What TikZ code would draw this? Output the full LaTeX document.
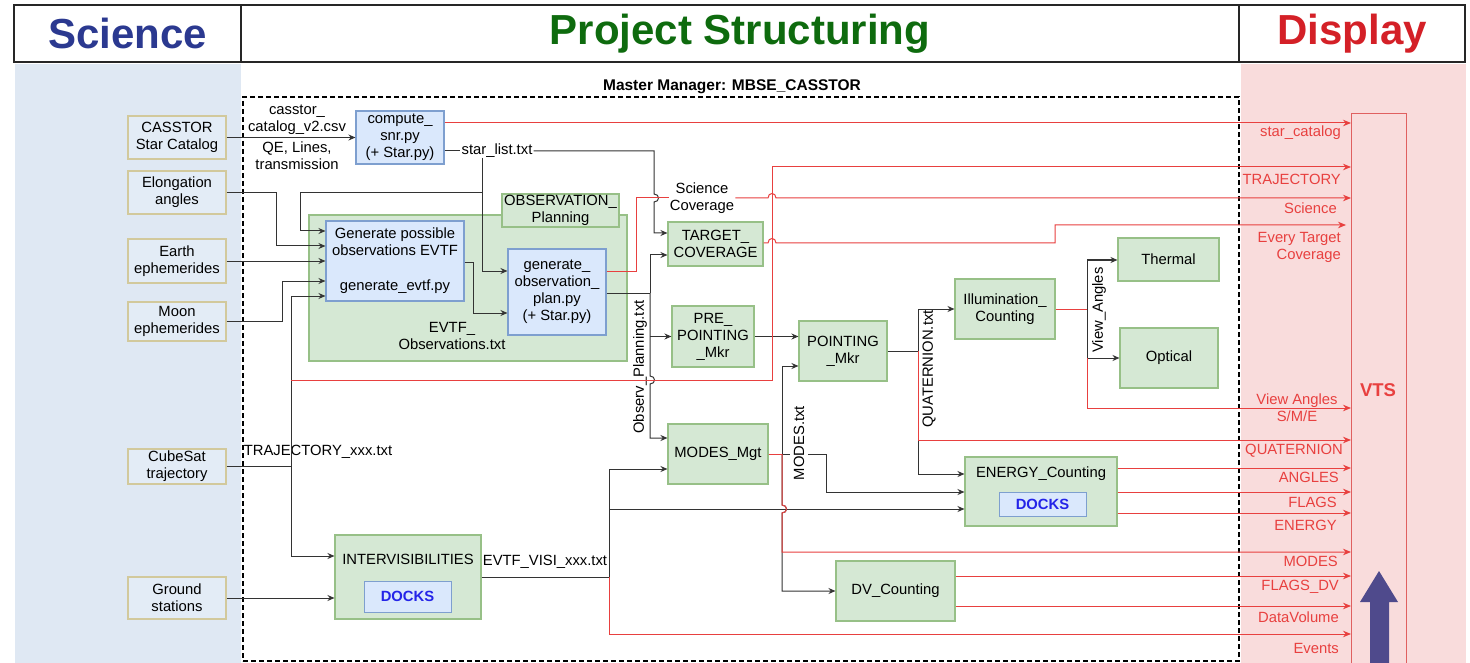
\documentclass[tikz,border=0pt]{standalone}
\usepackage{fontspec}
\setmainfont{Liberation Sans}
\usetikzlibrary{arrows.meta}
\definecolor{sciT}{HTML}{2B3990}
\definecolor{projT}{HTML}{0E6B0E}
\definecolor{dispT}{HTML}{D42027}
\definecolor{sciBG}{HTML}{DFE8F3}
\definecolor{dispBG}{HTML}{F9DCDC}
\definecolor{srcB}{HTML}{D2C99C}
\definecolor{srcF}{HTML}{E3ECF6}
\definecolor{blueF}{HTML}{DAE8FC}
\definecolor{blueB}{HTML}{7E9FCF}
\definecolor{greenF}{HTML}{D5E8D4}
\definecolor{greenB}{HTML}{97C087}
\definecolor{redC}{HTML}{E8403F}
\definecolor{lineC}{HTML}{333333}
\definecolor{docksT}{HTML}{2424E8}
\definecolor{vtsB}{HTML}{E06060}
\definecolor{purp}{HTML}{4F4A8C}
\newcommand\fs{\fontsize{14.8}{17}\selectfont}
\begin{document}
\begin{tikzpicture}[x=1pt,y=-1pt,
 base/.style={font=\fs, align=center, inner sep=0.5pt, line width=1.1pt},
 srcbox/.style={base, draw=srcB, fill=srcF, minimum width=98pt},
 bbox/.style={base, draw=blueB, fill=blueF},
 gbox/.style={base, draw=greenB, fill=greenF},
 ln/.style={draw=lineC, line width=1pt},
 arr/.style={ln, -{Stealth[length=7pt,width=6pt]}},
 rln/.style={draw=redC, line width=1pt},
 rarr/.style={rln, -{Stealth[length=8pt,width=6.5pt]}},
 lbl/.style={font=\fs, align=center, inner sep=1pt},
 rlbl/.style={font=\fs, text=redC, anchor=east, inner sep=0pt, align=right},
 docks/.style={draw=blueB, fill=blueF, line width=1pt, font=\fs\bfseries, text=docksT, inner sep=1pt},
 hdr/.style={draw=black!85, line width=1.3pt, font=\fontsize{42}{48}\selectfont\bfseries, inner sep=0pt}
]
\useasboundingbox (0,0) rectangle (1470,663);
\fill[white] (0,0) rectangle (1470,663);
% panels
\fill[sciBG] (15,64) rectangle (241,663);
\fill[dispBG] (1241,64) rectangle (1466,663);
% header
\node[hdr, text=sciT, minimum width=227pt, minimum height=57pt] (hsci) at (127.5,33.5) {Science};
\node[hdr, text=projT, minimum width=998pt, minimum height=57pt] (hproj) at (740,33.5) {Project Structuring};
\node[hdr, text=dispT, minimum width=226pt, minimum height=57pt] (hdisp) at (1352,33.5) {Display};
% master manager
\node[draw=black, dash pattern=on 5pt off 3pt, line width=1.5pt, minimum width=996pt, minimum height=564pt, inner sep=0pt] (mm) at (741,379) {};
\node[font=\fontsize{15.5}{18}\selectfont\bfseries, inner sep=1pt] (mmlbl) at (732,87) {Master Manager: MBSE\_CASSTOR};
% VTS
\node[draw=vtsB, fill=dispBG, line width=1.3pt, anchor=north west, minimum width=55pt, minimum height=580pt, inner sep=0pt] (vts) at (1351,113) {};
\node[font=\fontsize{18.5}{22}\selectfont\bfseries, text=redC] (vtst) at (1378,390) {VTS};
\fill[purp] (1370,670) -- (1370,602) -- (1360,602) -- (1379,571) -- (1398,602) -- (1389,602) -- (1389,670) -- cycle;
% sources
\node[srcbox, minimum height=43pt] (cat) at (177,137.5) {CASSTOR\\Star Catalog};
\node[srcbox, minimum height=43pt] (elong) at (177,192.5) {Elongation\\angles};
\node[srcbox, minimum height=44pt] (earth) at (177,261) {Earth\\ephemerides};
\node[srcbox, minimum height=39pt] (moon) at (177,321.5) {Moon\\ephemerides};
\node[srcbox, minimum height=35pt] (cube) at (177,466.5) {CubeSat\\trajectory};
\node[srcbox, minimum height=42pt] (ground) at (177,598) {Ground\\stations};
% observation planning
\node[gbox, minimum width=318pt, minimum height=146pt] (obsgrp) at (468,288) {};
\node[gbox, minimum width=117pt, minimum height=33pt] (obslbl) at (560.5,210.5) {OBSERVATION\_\\Planning};
\node[bbox, minimum width=138pt, minimum height=80pt] (gen) at (395,261) {Generate possible\\observations EVTF\\[18pt]generate\_evtf.py};
\node[bbox, minimum width=98pt, minimum height=86pt] (plan) at (557,292) {generate\_\\observation\_\\plan.py\\(+ Star.py)};
\node[lbl] (evtfobs) at (452,336) {EVTF\_\\Observations.txt};
\node[bbox, minimum width=88pt, minimum height=53pt] (snr) at (400,137.5) {compute\_\\snr.py\\(+ Star.py)};
% processing boxes
\node[gbox, minimum width=95pt, minimum height=44pt] (target) at (715.5,244) {TARGET\_\\COVERAGE};
\node[gbox, minimum width=82pt, minimum height=61pt] (pre) at (713,336.5) {PRE\_\\POINTING\\\_Mkr};
\node[gbox, minimum width=88pt, minimum height=60pt] (point) at (843,351) {POINTING\\\_Mkr};
\node[gbox, minimum width=100pt, minimum height=60pt] (modes) at (718,454) {MODES\_Mgt};
\node[gbox, minimum width=100pt, minimum height=60pt] (illum) at (1005,309) {Illumination\_\\Counting};
\node[gbox, minimum width=101pt, minimum height=43pt] (thermal) at (1168.5,259.5) {Thermal};
\node[gbox, minimum width=98pt, minimum height=60pt] (optical) at (1169,358) {Optical};
\node[gbox, minimum width=152pt, minimum height=69pt] (energy) at (1041,491.5) {};
\node[lbl] (energyt) at (1041,474) {ENERGY\_Counting};
\node[docks, minimum width=87pt, minimum height=24pt] (edocks) at (1042.5,504) {DOCKS};
\node[gbox, minimum width=119pt, minimum height=60pt] (dv) at (895.5,591) {DV\_Counting};
\node[gbox, minimum width=146pt, minimum height=84pt] (inter) at (408,577) {};
\node[lbl] (intert) at (408,559) {INTERVISIBILITIES};
\node[docks, minimum width=87pt, minimum height=31pt] (idocks) at (407.5,596.5) {DOCKS};
% labels
\node[lbl] (catlbl) at (297,120) {casstor\_\\catalog\_v2.csv};
\node[lbl] (qelbl) at (297,156) {QE, Lines,\\transmission};
\node[lbl] (sl) at (497,151) {star\_list.txt};
\node[lbl] (sc) at (702,198) {Science\\Coverage};
\node[lbl] (trajlbl) at (318,452) {TRAJECTORY\_xxx.txt};
\node[lbl] (visilbl) at (545,562) {EVTF\_VISI\_xxx.txt};
\node[lbl, rotate=90] (obsplan) at (640,367) {Observ\_Planning.txt};
\node[lbl, rotate=90] (modestxt) at (799,443) {MODES.txt};
\node[lbl, rotate=90] (quat) at (929,369) {QUATERNION.txt};
\node[lbl, rotate=90] (viewang) at (1099,310) {View\_Angles};
% coordinates
\coordinate (tj) at (291,466.5);
\coordinate (pj) at (650,293);
\coordinate (mj) at (782,454);
\coordinate (qj) at (918,351);
\coordinate (ij) at (1087,309);
\coordinate (oj) at (1087,358);
\coordinate (vj) at (609,577);
% black connectors
\draw[arr] (cat.east) -- (snr.west |- cat.east);
\draw[ln] (snr.east |- sl.west) -- (sl.west);
\draw[arr] (sl.east) -- (654,151) -- (654,194) .. controls (660,194) and (660,202) .. (654,202) -- (654,233) -- (target.west |- 0,233);
\draw[arr] (482,158) -- (482,271) -- (plan.west |- 0,271);
\draw[arr] (482,193) -- (300,193) -- (300,231) -- (gen.west |- 0,231);
\draw[arr] (elong.east) -- (276,192.5) -- (276,246) -- (gen.west |- 0,246);
\draw[arr] (earth.east) -- (gen.west |- earth.east);
\draw[arr] (moon.east) -- (282,321.5) -- (282,281) -- (gen.west |- 0,281);
\draw[arr] (cube.east) -- (tj) -- (291,296) -- (gen.west |- 0,296);
\draw[arr] (tj) -- (291,556) -- (inter.west |- 0,556);
\draw[arr] (ground.east) -- (inter.west |- ground.east);
\draw[arr] (gen.east |- 0,262) -- (473,262) -- (473,313) -- (plan.west |- 0,313);
\draw[ln] (plan.east |- pj) -- (pj);
\draw[arr] (pj) -- (650,255) -- (target.west |- 0,255);
\draw[arr] (pj) -- (650,376) .. controls (656,376) and (656,384) .. (650,384) -- (650,438) -- (modes.west |- 0,438);
\draw[arr] (650,336.5) -- (pre.west);
\draw[arr] (pre.east) -- (point.west |- pre.east);
\draw[arr] (modes.east) -- (mj) -- (782,366) -- (point.west |- 0,366);
\draw[arr] (mj) -- (782,505) .. controls (788,505) and (788,513) .. (782,513) -- (782,591) -- (dv.west |- 0,591);
\draw[ln] (mj) -- (790,454);
\draw[arr] (808,454) -- (826,454) -- (826,492) -- (energy.west |- 0,492);
\draw[arr] (point.east |- qj) -- (qj) -- (918,309) -- (illum.west |- 0,309);
\draw[arr] (qj) -- (918,474) -- (energy.west |- 0,474);
\draw[arr] (ij) -- (1087,260) -- (thermal.west |- 0,260);
\draw[arr] (ij) -- (oj) -- (optical.west |- oj);
\draw[ln] (inter.east |- vj) -- (vj);
\draw[arr] (vj) -- (609,469) -- (modes.west |- 0,469);
\draw[arr] (609,509) -- (energy.west |- 0,509);
% red connectors
\draw[rarr] (snr.east |- 0,123) -- (vts.west |- 0,123);
\draw[rarr] (291,380) -- (772,380) -- (772,167) -- (vts.west |- 0,167);
\draw[rln] (plan.east |- 0,271) -- (636,271) -- (636,198) -- (sc.west);
\draw[rarr] (sc.east) -- (768,198) .. controls (768,192) and (776,192) .. (776,198) -- (vts.west |- 0,198);
\draw[rarr] (target.east |- 0,243) -- (768,243) .. controls (768,237) and (776,237) .. (776,243) -- (1055,243) -- (1055,225) -- (1346,225);
\draw[rln] (modes.east) -- (mj);
\draw[rarr] (mj) -- (782,505) .. controls (788,505) and (788,513) .. (782,513) -- (782,552) -- (vts.west |- 0,552);
\draw[rarr] (qj) -- (918,440) -- (vts.west |- 0,440);
\draw[rln] (illum.east) -- (ij);
\draw[rarr] (oj) -- (1087,408) -- (vts.west |- 0,408);
\draw[rarr] (energy.east |- 0,468) -- (vts.west |- 0,468);
\draw[rarr] (energy.east |- 0,492) -- (vts.west |- 0,492);
\draw[rarr] (energy.east |- 0,513) -- (vts.west |- 0,513);
\draw[rarr] (dv.east |- 0,576) -- (vts.west |- 0,576);
\draw[rarr] (dv.east |- 0,606) -- (vts.west |- 0,606);
\draw[rarr] (vj) -- (609,634) -- (vts.west |- 0,634);
% red labels
\node[rlbl] (l1) at (1341,133) {star\_catalog};
\node[rlbl] (l2) at (1341,179) {TRAJECTORY};
\node[rlbl] (l3) at (1337,208) {Science};
\node[rlbl] (l4) at (1341,247) {Every Target\\Coverage};
\node[font=\fs, text=redC, align=center, inner sep=0pt] (l5) at (1297,408) {View Angles\\S/M/E};
\node[rlbl] (l6) at (1343,451) {QUATERNION};
\node[rlbl] (l7) at (1339,477) {ANGLES};
\node[rlbl] (l8) at (1337,502) {FLAGS};
\node[rlbl] (l9) at (1337,525) {ENERGY};
\node[rlbl] (l10) at (1338,561) {MODES};
\node[rlbl] (l11) at (1339,587) {FLAGS\_DV};
\node[rlbl] (l12) at (1339,617) {DataVolume};
\node[rlbl] (l13) at (1339,648) {Events};
\end{tikzpicture}
\end{document}
